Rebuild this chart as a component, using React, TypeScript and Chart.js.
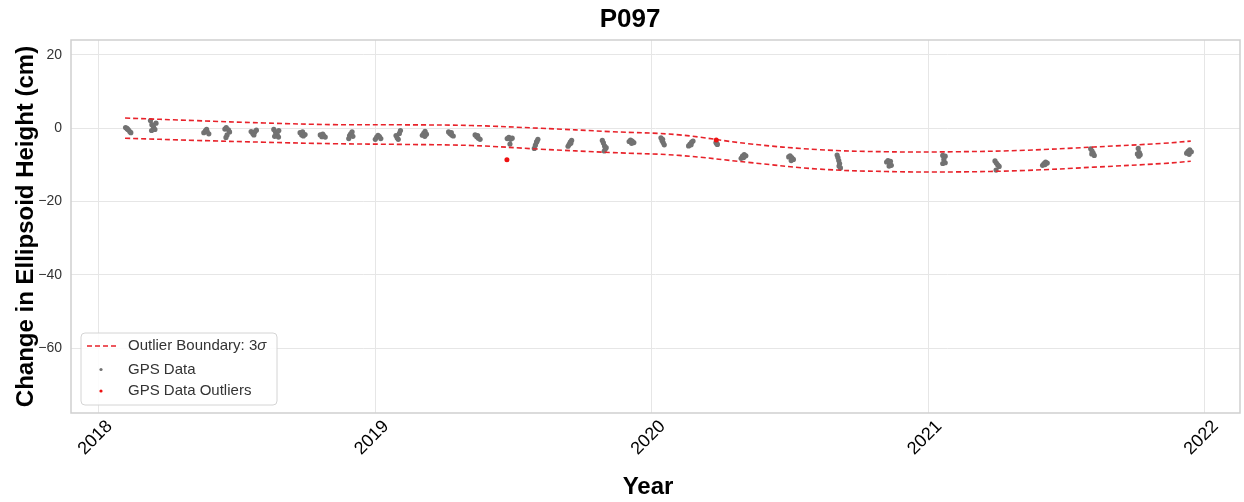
import React, { useEffect, useRef } from "react";
import { Chart, registerables } from "chart.js";

Chart.register(...registerables);

const FONT = "'Liberation Sans', Arial, Helvetica, sans-serif";

const chartTitle = "P097";
const xAxisTitle = "Year";
const yAxisTitle = "Change in Ellipsoid Height (cm)";
const legendLabels = ["Outlier Boundary: 3", "GPS Data", "GPS Data Outliers"];

const xTickYears = [2018, 2019, 2020, 2021, 2022];
const yTickValues = [20, 0, -20, -40, -60];

const gpsYears = [
  2018.098, 2018.103, 2018.108, 2018.113, 2018.117, 2018.104,
  2018.188, 2018.193, 2018.199, 2018.204, 2018.192, 2018.208,
  2018.381, 2018.387, 2018.393, 2018.399, 2018.391,
  2018.457, 2018.462, 2018.470, 2018.474, 2018.465, 2018.461,
  2018.552, 2018.558, 2018.565, 2018.571, 2018.562,
  2018.634, 2018.640, 2018.646, 2018.652, 2018.637, 2018.651,
  2018.729, 2018.735, 2018.741, 2018.747, 2018.738,
  2018.802, 2018.808, 2018.814, 2018.820, 2018.811,
  2018.905, 2018.908, 2018.912, 2018.917, 2018.920,
  2019.001, 2019.006, 2019.011, 2019.016, 2019.021,
  2019.076, 2019.080, 2019.084, 2019.088, 2019.092,
  2019.171, 2019.176, 2019.181, 2019.186, 2019.180,
  2019.266, 2019.271, 2019.277, 2019.283, 2019.276,
  2019.362, 2019.368, 2019.374, 2019.380, 2019.371,
  2019.478, 2019.484, 2019.490, 2019.496, 2019.488,
  2019.576, 2019.580, 2019.584, 2019.589, 2019.586,
  2019.698, 2019.702, 2019.706, 2019.711, 2019.708,
  2019.822, 2019.826, 2019.830, 2019.833, 2019.829, 2019.836,
  2019.919, 2019.924, 2019.930, 2019.936, 2019.928,
  2020.034, 2020.038, 2020.042, 2020.046, 2020.040,
  2020.134, 2020.139, 2020.145, 2020.150, 2020.143,
  2020.233, 2020.238, 2020.236,
  2020.324, 2020.329, 2020.335, 2020.341, 2020.333,
  2020.496, 2020.501, 2020.507, 2020.513, 2020.505,
  2020.671, 2020.674, 2020.677, 2020.680, 2020.678, 2020.683,
  2020.850, 2020.855, 2020.861, 2020.867, 2020.859, 2020.864,
  2021.053, 2021.062, 2021.057, 2021.053, 2021.062,
  2021.242, 2021.247, 2021.252, 2021.257, 2021.246,
  2021.414, 2021.419, 2021.425, 2021.431, 2021.423,
  2021.588, 2021.593, 2021.597, 2021.601, 2021.592,
  2021.760, 2021.757, 2021.762, 2021.767, 2021.764,
  2021.935, 2021.940, 2021.946, 2021.952, 2021.944,
];

const gpsValues = [
  0.2, 0.0, -0.4, -0.9, -1.2, -0.2,
  2.1, 1.0, 0.4, -0.3, -0.6, 1.4,
  -1.2, -0.6, -0.9, -1.5, -0.3,
  -0.2, 0.2, -0.4, -1.0, -1.8, -2.5,
  -0.9, -1.4, -1.0, -0.5, -1.8,
  -0.3, -1.0, -1.6, -0.6, -2.2, -2.4,
  -1.2, -1.8, -2.1, -1.7, -1.0,
  -1.8, -2.3, -2.0, -2.4, -1.6,
  -2.8, -2.0, -1.5, -1.0, -2.2,
  -3.0, -2.4, -1.9, -2.3, -2.8,
  -2.0, -2.6, -3.0, -1.4, -0.6,
  -1.9, -1.4, -0.8, -1.6, -2.2,
  -1.0, -1.4, -1.8, -2.1, -1.2,
  -1.8, -2.3, -2.7, -3.0, -2.0,
  -2.8, -2.5, -3.0, -2.7, -4.3,
  -5.5, -4.6, -3.8, -3.0, -3.5,
  -4.9, -4.4, -3.8, -3.3, -4.1,
  -3.3, -4.0, -4.8, -5.6, -6.2, -5.3,
  -3.6, -3.2, -3.5, -3.9, -4.1,
  -2.6, -3.3, -3.9, -4.5, -3.0,
  -4.8, -4.3, -3.8, -3.5, -4.5,
  -3.9, -4.4, -4.2,
  -8.2, -7.6, -7.2, -7.5, -8.0,
  -7.8, -7.5, -8.0, -8.5, -8.8,
  -7.3, -8.0, -8.8, -9.6, -10.3, -10.8,
  -9.2, -8.8, -9.5, -10.1, -10.3, -9.0,
  -7.4, -7.6, -8.5, -9.6, -9.4,
  -8.9, -9.5, -10.0, -10.4, -11.4,
  -10.1, -9.6, -9.2, -9.5, -9.9,
  -5.6, -6.2, -6.8, -7.4, -7.0,
  -5.5, -7.0, -7.6, -7.2, -6.6,
  -6.8, -6.3, -5.9, -6.4, -7.1,
];

const outlierYears = [2019.477, 2020.234];
const outlierValues = [-8.6, -3.2];

const boundaryYears = [
  2018.096, 2018.35, 2018.6, 2018.85, 2019.1, 2019.35, 2019.6, 2019.85, 2020.1,
  2020.35, 2020.6, 2020.85, 2021.1, 2021.35, 2021.6, 2021.85, 2021.95,
];
const upperBound = [
  2.8, 2.1, 1.45, 1.0, 0.95, 0.75, 0.0, -0.9, -1.8, -4.2, -5.8, -6.4, -6.4, -6.0, -5.1, -4.1, -3.5,
];
const lowerBound = [
  -2.7, -3.3, -3.8, -4.2, -4.4, -4.7, -5.7, -6.6, -7.4, -9.3, -11.1, -11.8, -11.9, -11.5, -10.6, -9.6, -9.0,
];

const GRAY = "#727272";
const RED = "#ee1111";
const LINE_RED = "#e8222a";

const toXY = (xs: number[], ys: number[]) => xs.map((x, i) => ({ x, y: ys[i] }));

const decorPlugin = {
  id: "decor",
  beforeDatasetsDraw(chart: any) {
    const { ctx, chartArea } = chart;
    ctx.save();
    ctx.strokeStyle = "#cfcfcf";
    ctx.lineWidth = 1.5;
    ctx.strokeRect(chartArea.left, chartArea.top, chartArea.right - chartArea.left, chartArea.bottom - chartArea.top);
    ctx.restore();
  },
  afterDraw(chart: any) {
    const { ctx, chartArea } = chart;
    ctx.save();
    ctx.fillStyle = "#000";
    ctx.textAlign = "center";
    ctx.textBaseline = "middle";
    ctx.font = `bold 26px ${FONT}`;
    ctx.fillText(chartTitle, 630, 20);
    ctx.font = `bold 24px ${FONT}`;
    ctx.fillText(xAxisTitle, 648, 487);
    ctx.save();
    ctx.translate(26, (chartArea.top + chartArea.bottom) / 2);
    ctx.rotate(-Math.PI / 2);
    ctx.fillText(yAxisTitle, 0, 0);
    ctx.restore();

    const bx = 81, by = 333, bw = 196, bh = 72, r = 4;
    ctx.beginPath();
    ctx.moveTo(bx + r, by);
    ctx.lineTo(bx + bw - r, by);
    ctx.quadraticCurveTo(bx + bw, by, bx + bw, by + r);
    ctx.lineTo(bx + bw, by + bh - r);
    ctx.quadraticCurveTo(bx + bw, by + bh, bx + bw - r, by + bh);
    ctx.lineTo(bx + r, by + bh);
    ctx.quadraticCurveTo(bx, by + bh, bx, by + bh - r);
    ctx.lineTo(bx, by + r);
    ctx.quadraticCurveTo(bx, by, bx + r, by);
    ctx.closePath();
    ctx.fillStyle = "rgba(255,255,255,0.85)";
    ctx.fill();
    ctx.strokeStyle = "#d4d4d4";
    ctx.lineWidth = 1;
    ctx.stroke();

    const rows = [346, 369.5, 391];
    ctx.strokeStyle = LINE_RED;
    ctx.lineWidth = 1.5;
    ctx.setLineDash([5, 3]);
    ctx.beginPath();
    ctx.moveTo(87, rows[0]);
    ctx.lineTo(117, rows[0]);
    ctx.stroke();
    ctx.setLineDash([]);

    ctx.fillStyle = GRAY;
    ctx.beginPath();
    ctx.arc(101, rows[1], 1.6, 0, Math.PI * 2);
    ctx.fill();
    ctx.fillStyle = RED;
    ctx.beginPath();
    ctx.arc(101, rows[2], 1.6, 0, Math.PI * 2);
    ctx.fill();

    ctx.fillStyle = "#333";
    ctx.textAlign = "left";
    ctx.font = `15px ${FONT}`;
    ctx.fillText(legendLabels[0], 128, rows[0]);
    const w0 = ctx.measureText(legendLabels[0]).width;
    ctx.font = `italic 15px ${FONT}`;
    ctx.fillText("\u03c3", 128 + w0, rows[0]);
    ctx.font = `15px ${FONT}`;
    ctx.fillText(legendLabels[1], 128, rows[1]);
    ctx.fillText(legendLabels[2], 128, rows[2]);
    ctx.restore();
  },
};

export default function App() {
  const ref = useRef<HTMLCanvasElement>(null);

  useEffect(() => {
    const canvas = ref.current;
    if (!canvas) return;
    const chart = new Chart(canvas, {
      type: "scatter",
      data: {
        datasets: [
          {
            label: "GPS Data Outliers",
            data: toXY(outlierYears, outlierValues),
            backgroundColor: RED,
            borderColor: RED,
            pointRadius: 2.5,
            borderWidth: 0,
          },
          {
            type: "line",
            label: "Outlier Boundary upper",
            data: toXY(boundaryYears, upperBound),
            borderColor: LINE_RED,
            borderWidth: 1.6,
            borderDash: [5, 3],
            pointRadius: 0,
            tension: 0.4,
            fill: false,
          } as any,
          {
            type: "line",
            label: "Outlier Boundary lower",
            data: toXY(boundaryYears, lowerBound),
            borderColor: LINE_RED,
            borderWidth: 1.6,
            borderDash: [5, 3],
            pointRadius: 0,
            tension: 0.4,
            fill: false,
          } as any,
          {
            label: "GPS Data",
            data: toXY(gpsYears, gpsValues),
            backgroundColor: GRAY,
            borderColor: GRAY,
            pointRadius: 2.6,
            borderWidth: 0,
          },
        ],
      },
      options: {
        responsive: false,
        devicePixelRatio: 1,
        animation: false,
        layout: { padding: { top: 40, left: 0, right: 3, bottom: 0 } },
        plugins: {
          legend: { display: false },
          title: { display: false },
          tooltip: { enabled: false },
        },
        scales: {
          x: {
            type: "linear",
            min: 2017.9006,
            max: 2022.128,
            afterBuildTicks: (s: any) => {
              s.ticks = xTickYears.map((v) => ({ value: v }));
            },
            afterFit: (s: any) => {
              s.height = 89;
              s.paddingLeft = 0;
              s.paddingRight = 0;
            },
            ticks: {
              autoSkip: false,
              minRotation: 45,
              maxRotation: 45,
              padding: 3,
              labelOffset: 11,
              color: "#000",
              font: { family: FONT, size: 18 },
              callback: (v: any) => String(v),
            },
            grid: { color: "#e6e6e6", lineWidth: 1, drawTicks: false },
            border: { display: false },
          },
          y: {
            type: "linear",
            min: -77.68,
            max: 24.09,
            afterBuildTicks: (s: any) => {
              s.ticks = yTickValues.map((v) => ({ value: v }));
            },
            afterFit: (s: any) => {
              s.width = 71;
            },
            ticks: {
              padding: 9,
              color: "#333",
              font: { family: FONT, size: 14 },
              callback: (v: any) => (v < 0 ? "\u2212" + Math.abs(v) : String(v)),
            },
            grid: { color: "#e6e6e6", lineWidth: 1, drawTicks: false },
            border: { display: false },
          },
        },
      },
      plugins: [decorPlugin],
    });
    return () => chart.destroy();
  }, []);

  return (
    <div style={{ position: "absolute", left: 0, top: 0, width: 1244, height: 502 }}>
      <canvas ref={ref} width={1244} height={502} style={{ display: "block", width: 1244, height: 502 }} />
    </div>
  );
}
